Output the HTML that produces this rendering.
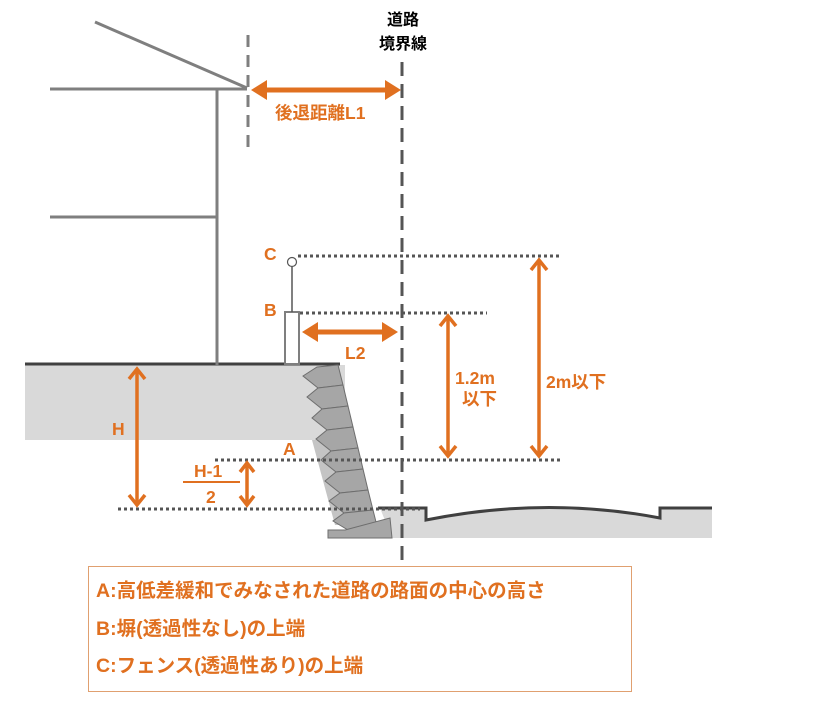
<!DOCTYPE html>
<html><head><meta charset="utf-8"><style>
html,body{margin:0;padding:0;background:#fff;}
svg{display:block;}
text{font-family:"Liberation Sans","Noto Sans CJK JP",sans-serif;font-weight:bold;}
</style></head><body>
<svg width="817" height="715" viewBox="0 0 817 715" xmlns="http://www.w3.org/2000/svg">
<!-- ground -->
<rect x="25" y="365" width="320" height="75" fill="#d9d9d9"/>
<line x1="25" y1="364" x2="340" y2="364" stroke="#404040" stroke-width="3"/>
<!-- road -->
<path d="M380 508 L425 508 L425 520 Q545 496 660 518 L660 508 L712 508 L712 538 L392 538 Z" fill="#d9d9d9"/>
<path d="M378 508 L426 508 L426 520 Q545 496 660 518 L660 508 L712 508" fill="none" stroke="#404040" stroke-width="3"/>
<!-- house -->
<g stroke="#7f7f7f" stroke-width="3" fill="none">
<line x1="95" y1="22" x2="247" y2="88"/>
<line x1="50" y1="89" x2="247" y2="89"/>
<line x1="217" y1="89" x2="217" y2="365"/>
<line x1="50" y1="217" x2="217" y2="217"/>
</g>
<line x1="248" y1="35" x2="248" y2="147" stroke="#7f7f7f" stroke-width="3" stroke-dasharray="12,8"/>
<!-- wall shadow -->
<polygon points="312,440 338,440 362,525 335,525" fill="#c4c4c4"/>
<!-- wall blocks -->
<g fill="#a6a6a6" stroke="#6e6e6e" stroke-width="1">
<polygon points="338,365 343,385 318,388 303,376 317,367"/>
<polygon points="343,385 348,406 322,409 307,397 318,388"/>
<polygon points="348,406 353,427 327,430 312,418 322,409"/>
<polygon points="353,427 358,448 331,451 316,439 327,430"/>
<polygon points="358,448 363,469 336,472 321,460 331,451"/>
<polygon points="363,469 368,490 340,493 325,481 336,472"/>
<polygon points="368,490 373,510 344,513 329,501 340,493"/>
<polygon points="373,510 378,530 348,530 333,521 344,513"/>
<polygon points="345,530 390,518 392,538 328,538 328,530"/>
</g>
<!-- road boundary -->
<line x1="402" y1="62" x2="402" y2="562" stroke="#555" stroke-width="3" stroke-dasharray="14,8"/>
<!-- fence -->
<rect x="285" y="312" width="14" height="52" fill="#fff" stroke="#7f7f7f" stroke-width="2"/>
<line x1="292" y1="312" x2="292" y2="267" stroke="#555" stroke-width="1.5"/>
<circle cx="292" cy="262" r="4.5" fill="#fff" stroke="#555" stroke-width="1.2"/>
<!-- dotted lines -->
<g stroke="#555" stroke-width="3" stroke-dasharray="3,3">
<line x1="298" y1="256" x2="562" y2="256"/>
<line x1="300" y1="313" x2="487" y2="313"/>
<line x1="215" y1="460" x2="562" y2="460"/>
<line x1="118" y1="509" x2="420" y2="509"/>
</g>
<!-- orange arrows -->
<g stroke="#e07020" stroke-width="3.5" fill="none">
<line x1="262" y1="90" x2="390" y2="90" stroke-width="5"/>
<line x1="314" y1="332" x2="388" y2="332" stroke-width="5"/>
<line x1="448" y1="316" x2="448" y2="456"/>
<polyline points="440,326 448,316 456,326"/>
<polyline points="440,446 448,456 456,446"/>
<line x1="539" y1="260" x2="539" y2="456"/>
<polyline points="531,270 539,260 547,270"/>
<polyline points="531,446 539,456 547,446"/>
<line x1="137" y1="369" x2="137" y2="505"/>
<polyline points="129,379 137,369 145,379"/>
<polyline points="129,495 137,505 145,495"/>
<line x1="247" y1="463" x2="247" y2="505"/>
<polyline points="240,472 247,463 254,472"/>
<polyline points="240,496 247,505 254,496"/>
<line x1="183" y1="482" x2="240" y2="482" stroke-width="2"/>
</g>
<g fill="#e07020">
<polygon points="251,90 267,80 267,100"/>
<polygon points="401,90 385,80 385,100"/>
<polygon points="302,332 318,322 318,342"/>
<polygon points="398,332 382,322 382,342"/>
</g>
<!-- labels -->
<g fill="#000" font-size="16" text-anchor="middle">
<text x="403" y="25">道路</text>
<text x="403" y="49">境界線</text>
</g>
<g fill="#e07020" font-size="17.5">
<text x="275" y="119">後退距離L1</text>
<text x="264" y="260">C</text>
<text x="264" y="316">B</text>
<text x="345" y="359">L2</text>
<text x="455" y="384">1.2m</text>
<text x="462" y="405">以下</text>
<text x="546" y="388">2m以下</text>
<text x="112" y="435">H</text>
<text x="283" y="455">A</text>
<text x="194" y="477">H-1</text>
<text x="206" y="503">2</text>
</g>
<!-- legend -->
<rect x="88.5" y="566.5" width="543" height="125" fill="none" stroke="#e0a070" stroke-width="1"/>
<g fill="#e07020" font-size="19.5">
<text x="96" y="597">A:高低差緩和でみなされた道路の路面の中心の高さ</text>
<text x="96" y="635">B:塀(透過性なし)の上端</text>
<text x="96" y="672">C:フェンス(透過性あり)の上端</text>
</g>
</svg>
</body></html>
